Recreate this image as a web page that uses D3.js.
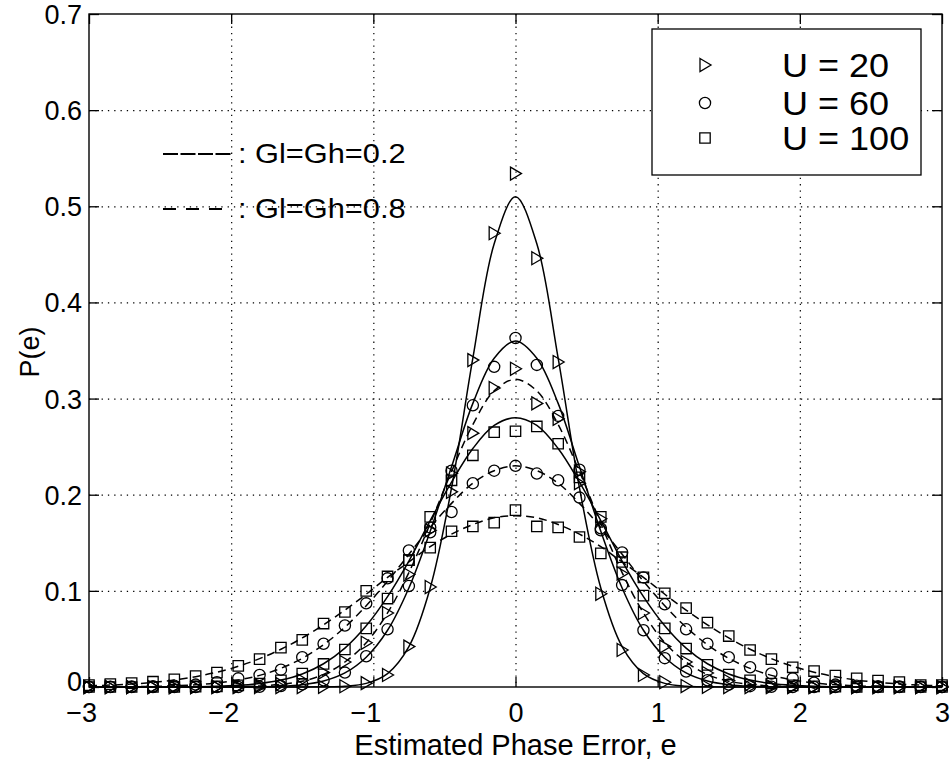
<!DOCTYPE html>
<html>
<head>
<meta charset="utf-8">
<script src="https://cdn.jsdelivr.net/npm/d3@7/dist/d3.min.js"></script>
<style>
  html, body { margin: 0; padding: 0; background: #fff; }
  svg { display: block; font-family: "Liberation Sans", Arial, Helvetica, sans-serif; }
</style>
</head>
<body>
<svg id="chart" width="950" height="760"></svg>
<script>
// ---------------- DATA ----------------
const xGrid = [-3, -2.85, -2.7, -2.55, -2.4, -2.25, -2.1, -1.95, -1.8, -1.65, -1.5, -1.35, -1.2, -1.05, -0.9, -0.75, -0.6, -0.45, -0.3, -0.15,
  0, 0.15, 0.3, 0.45, 0.6, 0.75, 0.9, 1.05, 1.2, 1.35, 1.5, 1.65, 1.8, 1.95, 2.1, 2.25, 2.4, 2.55, 2.7, 2.85, 3];

const xTicks = [-3, -2, -1, 0, 1, 2, 3];
const xTickLabels = ["\u22123", "\u22122", "\u22121", "0", "1", "2", "3"];
const yTicks = [0, 0.1, 0.2, 0.3, 0.4, 0.5, 0.6, 0.7];
const yTickLabels = ["0", "0.1", "0.2", "0.3", "0.4", "0.5", "0.6", "0.7"];

const legendLabels = ["U = 20", "U = 60", "U = 100"];
const legendMarkers = ["tri", "circle", "square"];
const noteLabels = [": Gl=Gh=0.2", ": Gl=Gh=0.8"];

// simulated points (markers)
const simU20G02 = [0, 0, 0, 0, 0, 0, 0, 0, 0, 0, 0, 0.0002, 0.0008, 0.004, 0.0125, 0.042, 0.104, 0.203, 0.340, 0.472,
  0.534, 0.446, 0.338, 0.212, 0.097, 0.0385, 0.0125, 0.005, 0.001, 0.0002, 0, 0, 0, 0, 0, 0, 0, 0, 0, 0, 0];
const simU20G08 = [0, 0, 0, 0, 0, 0, 0.0001, 0.0004, 0.0012, 0.003, 0.007, 0.015, 0.026, 0.046, 0.077, 0.117, 0.163, 0.222, 0.264, 0.311,
  0.331, 0.295, 0.279, 0.224, 0.175, 0.118, 0.077, 0.042, 0.026, 0.0146, 0.0065, 0.0028, 0.0011, 0.0004, 0.0001, 0, 0, 0, 0, 0, 0];
const simU60G02 = [0, 0, 0, 0, 0, 0, 0, 0, 0.0003, 0.001, 0.0028, 0.007, 0.015, 0.032, 0.060, 0.105, 0.161, 0.225, 0.293, 0.333,
  0.363, 0.335, 0.282, 0.226, 0.163, 0.106, 0.059, 0.030, 0.016, 0.007, 0.0025, 0.0009, 0.0003, 0, 0, 0, 0, 0, 0, 0, 0];
const simU60G08 = [0.0001, 0.0002, 0.0004, 0.0007, 0.0013, 0.0025, 0.005, 0.009, 0.0125, 0.018, 0.031, 0.045, 0.064, 0.087, 0.113, 0.142, 0.166, 0.182, 0.212, 0.225,
  0.230, 0.222, 0.215, 0.197, 0.165, 0.140, 0.114, 0.086, 0.060, 0.045, 0.031, 0.0205, 0.014, 0.009, 0.0045, 0.0025, 0.0013, 0.0007, 0.0004, 0.0002, 0.0001];
const simU100G02 = [0, 0, 0, 0, 0, 0.0003, 0.0007, 0.0017, 0.0035, 0.007, 0.014, 0.024, 0.039, 0.061, 0.092, 0.132, 0.177, 0.215, 0.241, 0.265,
  0.266, 0.271, 0.253, 0.218, 0.177, 0.130, 0.095, 0.061, 0.040, 0.023, 0.013, 0.007, 0.0036, 0.0017, 0.0007, 0.0003, 0, 0, 0, 0, 0];
const simU100G08 = [0.002, 0.003, 0.004, 0.0055, 0.008, 0.0114, 0.015, 0.022, 0.029, 0.041, 0.049, 0.066, 0.078, 0.100, 0.115, 0.132, 0.145, 0.162, 0.167, 0.171,
  0.184, 0.167, 0.166, 0.156, 0.139, 0.135, 0.114, 0.0975, 0.082, 0.067, 0.053, 0.0385, 0.029, 0.0205, 0.0166, 0.0118, 0.009, 0.0066, 0.0052, 0.002, 0.002];

// analytical curves (lines)
const thU20G02 = [0, 0, 0, 0, 0, 0, 0, 0, 0, 0, 0, 0.0002, 0.0008, 0.0038, 0.014, 0.042, 0.103, 0.207, 0.342, 0.461,
  0.51, 0.461, 0.342, 0.207, 0.103, 0.042, 0.014, 0.0038, 0.0008, 0.0002, 0, 0, 0, 0, 0, 0, 0, 0, 0, 0, 0];
const thU20G08 = [0, 0, 0, 0, 0, 0, 0.0001, 0.0004, 0.0011, 0.0027, 0.006, 0.013, 0.026, 0.046, 0.077, 0.119, 0.170, 0.224, 0.273, 0.308,
  0.32, 0.308, 0.273, 0.224, 0.170, 0.119, 0.077, 0.046, 0.026, 0.013, 0.006, 0.0027, 0.0011, 0.0004, 0.0001, 0, 0, 0, 0, 0, 0];
const thU60G02 = [0, 0, 0, 0, 0, 0, 0, 0.0001, 0.0003, 0.0008, 0.0024, 0.0062, 0.0146, 0.031, 0.059, 0.103, 0.162, 0.229, 0.295, 0.342,
  0.36, 0.342, 0.295, 0.229, 0.162, 0.103, 0.059, 0.031, 0.0146, 0.0062, 0.0024, 0.0008, 0.0003, 0.0001, 0, 0, 0, 0, 0, 0, 0];
const thU60G08 = [0.0001, 0.0001, 0.0003, 0.0006, 0.0012, 0.0023, 0.0042, 0.0073, 0.0121, 0.0194, 0.0298, 0.044, 0.0622, 0.0845, 0.110, 0.138, 0.166, 0.191, 0.212, 0.225,
  0.23, 0.225, 0.212, 0.191, 0.166, 0.138, 0.110, 0.0845, 0.0622, 0.044, 0.0298, 0.0194, 0.0121, 0.0073, 0.0042, 0.0023, 0.0012, 0.0006, 0.0003, 0.0001, 0.0001];
const thU100G02 = [0, 0, 0, 0, 0.0001, 0.0003, 0.0007, 0.0017, 0.0036, 0.0072, 0.0136, 0.0242, 0.0404, 0.0636, 0.094, 0.131, 0.173, 0.213, 0.248, 0.272,
  0.28, 0.272, 0.248, 0.213, 0.173, 0.131, 0.094, 0.0636, 0.0404, 0.0242, 0.0136, 0.0072, 0.0036, 0.0017, 0.0007, 0.0003, 0.0001, 0, 0, 0, 0];
const thU100G08 = [0.0012, 0.002, 0.0031, 0.0048, 0.0072, 0.0107, 0.0154, 0.0215, 0.0295, 0.0393, 0.051, 0.0647, 0.080, 0.0965, 0.114, 0.130, 0.146, 0.159, 0.169, 0.176,
  0.178, 0.176, 0.169, 0.159, 0.146, 0.130, 0.114, 0.0965, 0.080, 0.0647, 0.051, 0.0393, 0.0295, 0.0215, 0.0154, 0.0107, 0.0072, 0.0048, 0.0031, 0.002, 0.0012];

const curves = [
  { values: thU20G02, dashed: false }, { values: thU60G02, dashed: false }, { values: thU100G02, dashed: false },
  { values: thU20G08, dashed: true }, { values: thU60G08, dashed: true }, { values: thU100G08, dashed: true }
];
const points = [
  { values: simU20G02, marker: "tri" }, { values: simU20G08, marker: "tri" },
  { values: simU60G02, marker: "circle" }, { values: simU60G08, marker: "circle" },
  { values: simU100G02, marker: "square" }, { values: simU100G08, marker: "square" }
];

// ---------------- LAYOUT ----------------
const W = 950, H = 760;
const m = { left: 89, right: 8, top: 14, bottom: 73 };
const pw = W - m.left - m.right, ph = H - m.top - m.bottom;

const svg = d3.select("#chart");
svg.append("rect").attr("width", W).attr("height", H).attr("fill", "#fff");
const g = svg.append("g").attr("transform", `translate(${m.left},${m.top})`);

const x = d3.scaleLinear().domain([-3, 3]).range([0, pw]);
const y = d3.scaleLinear().domain([0, 0.7]).range([ph, 0]);

// grid
g.append("g").attr("class", "grid")
  .call(d3.axisBottom(x).tickValues(xTicks.slice(1, -1)).tickSize(ph).tickFormat(""));
g.append("g").attr("class", "grid")
  .call(d3.axisLeft(y).tickValues(yTicks.slice(1, -1)).tickSize(-pw).tickFormat(""));
g.selectAll(".grid .domain").remove();
g.selectAll(".grid line").attr("stroke", "#000").attr("stroke-width", 1.2).attr("stroke-dasharray", "1.3,5");

// axes (ticks inward on all sides)
const tickStyle = sel => {
  sel.select(".domain").remove();
  sel.selectAll("line").attr("stroke", "#000").attr("stroke-width", 1.3);
  sel.selectAll("text").attr("fill", "#000").style("font-size", "27px");
};
const xi = d3.scaleOrdinal().domain(xTicks).range(xTickLabels);
const yi = d3.scaleOrdinal().domain(yTicks).range(yTickLabels);

const axB = g.append("g").attr("transform", `translate(0,${ph})`)
  .call(d3.axisBottom(x).tickValues(xTicks).tickSize(-10).tickFormat(d => xi(d))).call(tickStyle);
axB.selectAll("text").attr("y", 35).attr("dy", null).attr("text-anchor", "end").attr("x", 7.5);

g.append("g").call(d3.axisTop(x).tickValues(xTicks).tickSize(-10).tickFormat("")).call(tickStyle);
const axL = g.append("g").call(d3.axisLeft(y).tickValues(yTicks).tickSize(-10).tickFormat(d => yi(d))).call(tickStyle);
axL.selectAll("text").attr("x", -7).attr("dy", "0.35em");
axL.selectAll("text").filter(d => d === 0).attr("dy", "0.14em");
g.append("g").attr("transform", `translate(${pw},0)`)
  .call(d3.axisRight(y).tickValues(yTicks).tickSize(-10).tickFormat("")).call(tickStyle);

// box
g.append("rect").attr("width", pw).attr("height", ph).attr("fill", "none")
  .attr("stroke", "#000").attr("stroke-width", 1.4);

// curves
const line = d3.line().x((d, i) => x(xGrid[i])).y(d => y(d)).curve(d3.curveCatmullRom.alpha(0.5));
g.append("g").selectAll("path").data(curves).join("path")
  .attr("d", d => line(d.values))
  .attr("fill", "none").attr("stroke", "#000").attr("stroke-width", 1.5)
  .attr("stroke-dasharray", d => d.dashed ? "8,5" : null);

// markers
function markerPath(type, cx, cy) {
  if (type === "tri") return `M${cx - 5},${cy - 6.5}L${cx + 6},${cy}L${cx - 5},${cy + 6.5}Z`;
  if (type === "square") return `M${cx - 5.2},${cy - 5.2}h10.4v10.4h-10.4Z`;
  const r = 5.6;
  return `M${cx - r},${cy}a${r},${r} 0 1,0 ${2 * r},0a${r},${r} 0 1,0 ${-2 * r},0Z`;
}
const mg = g.append("g");
points.forEach(s => {
  mg.append("g").selectAll("path").data(s.values).join("path")
    .attr("d", (d, i) => markerPath(s.marker, x(xGrid[i]), y(d)))
    .attr("fill", "none").attr("stroke", "#000").attr("stroke-width", 1.3);
});

// annotation for line styles
const notes = [{ y: 154, dash: "15,2.5" }, { y: 209, dash: "13,10" }];
notes.forEach((n, i) => {
  svg.append("line").attr("x1", 163).attr("x2", 232).attr("y1", n.y).attr("y2", n.y)
    .attr("stroke", "#000").attr("stroke-width", 2).attr("stroke-dasharray", n.dash);
  svg.append("text").attr("transform", `translate(238,${n.y}) scale(1.14,1)`).attr("dy", "0.35em")
    .style("font-size", "27px").attr("fill", "#000").text(noteLabels[i]);
});

// legend
const lg = svg.append("g");
lg.append("rect").attr("x", 652).attr("y", 29).attr("width", 269).attr("height", 146)
  .attr("fill", "#fff").attr("stroke", "#000").attr("stroke-width", 1.3);
const legY = [65, 103, 138];
legendLabels.forEach((lab, i) => {
  lg.append("path").attr("d", markerPath(legendMarkers[i], 705, legY[i]))
    .attr("fill", "none").attr("stroke", "#000").attr("stroke-width", 1.3);
  lg.append("text").attr("transform", `translate(782,${legY[i]}) scale(1.06,1)`).attr("dy", "0.36em")
    .style("font-size", "34px").attr("fill", "#000").text(lab);
});

// axis titles
svg.append("text").attr("x", m.left + pw / 2).attr("y", 755).attr("text-anchor", "middle")
  .style("font-size", "29px").attr("fill", "#000").text("Estimated Phase Error, e");
svg.append("text").attr("transform", "translate(39,352) rotate(-90)").attr("text-anchor", "middle")
  .style("font-size", "27px").attr("fill", "#000").text("P(e)");
</script>
</body>
</html>
